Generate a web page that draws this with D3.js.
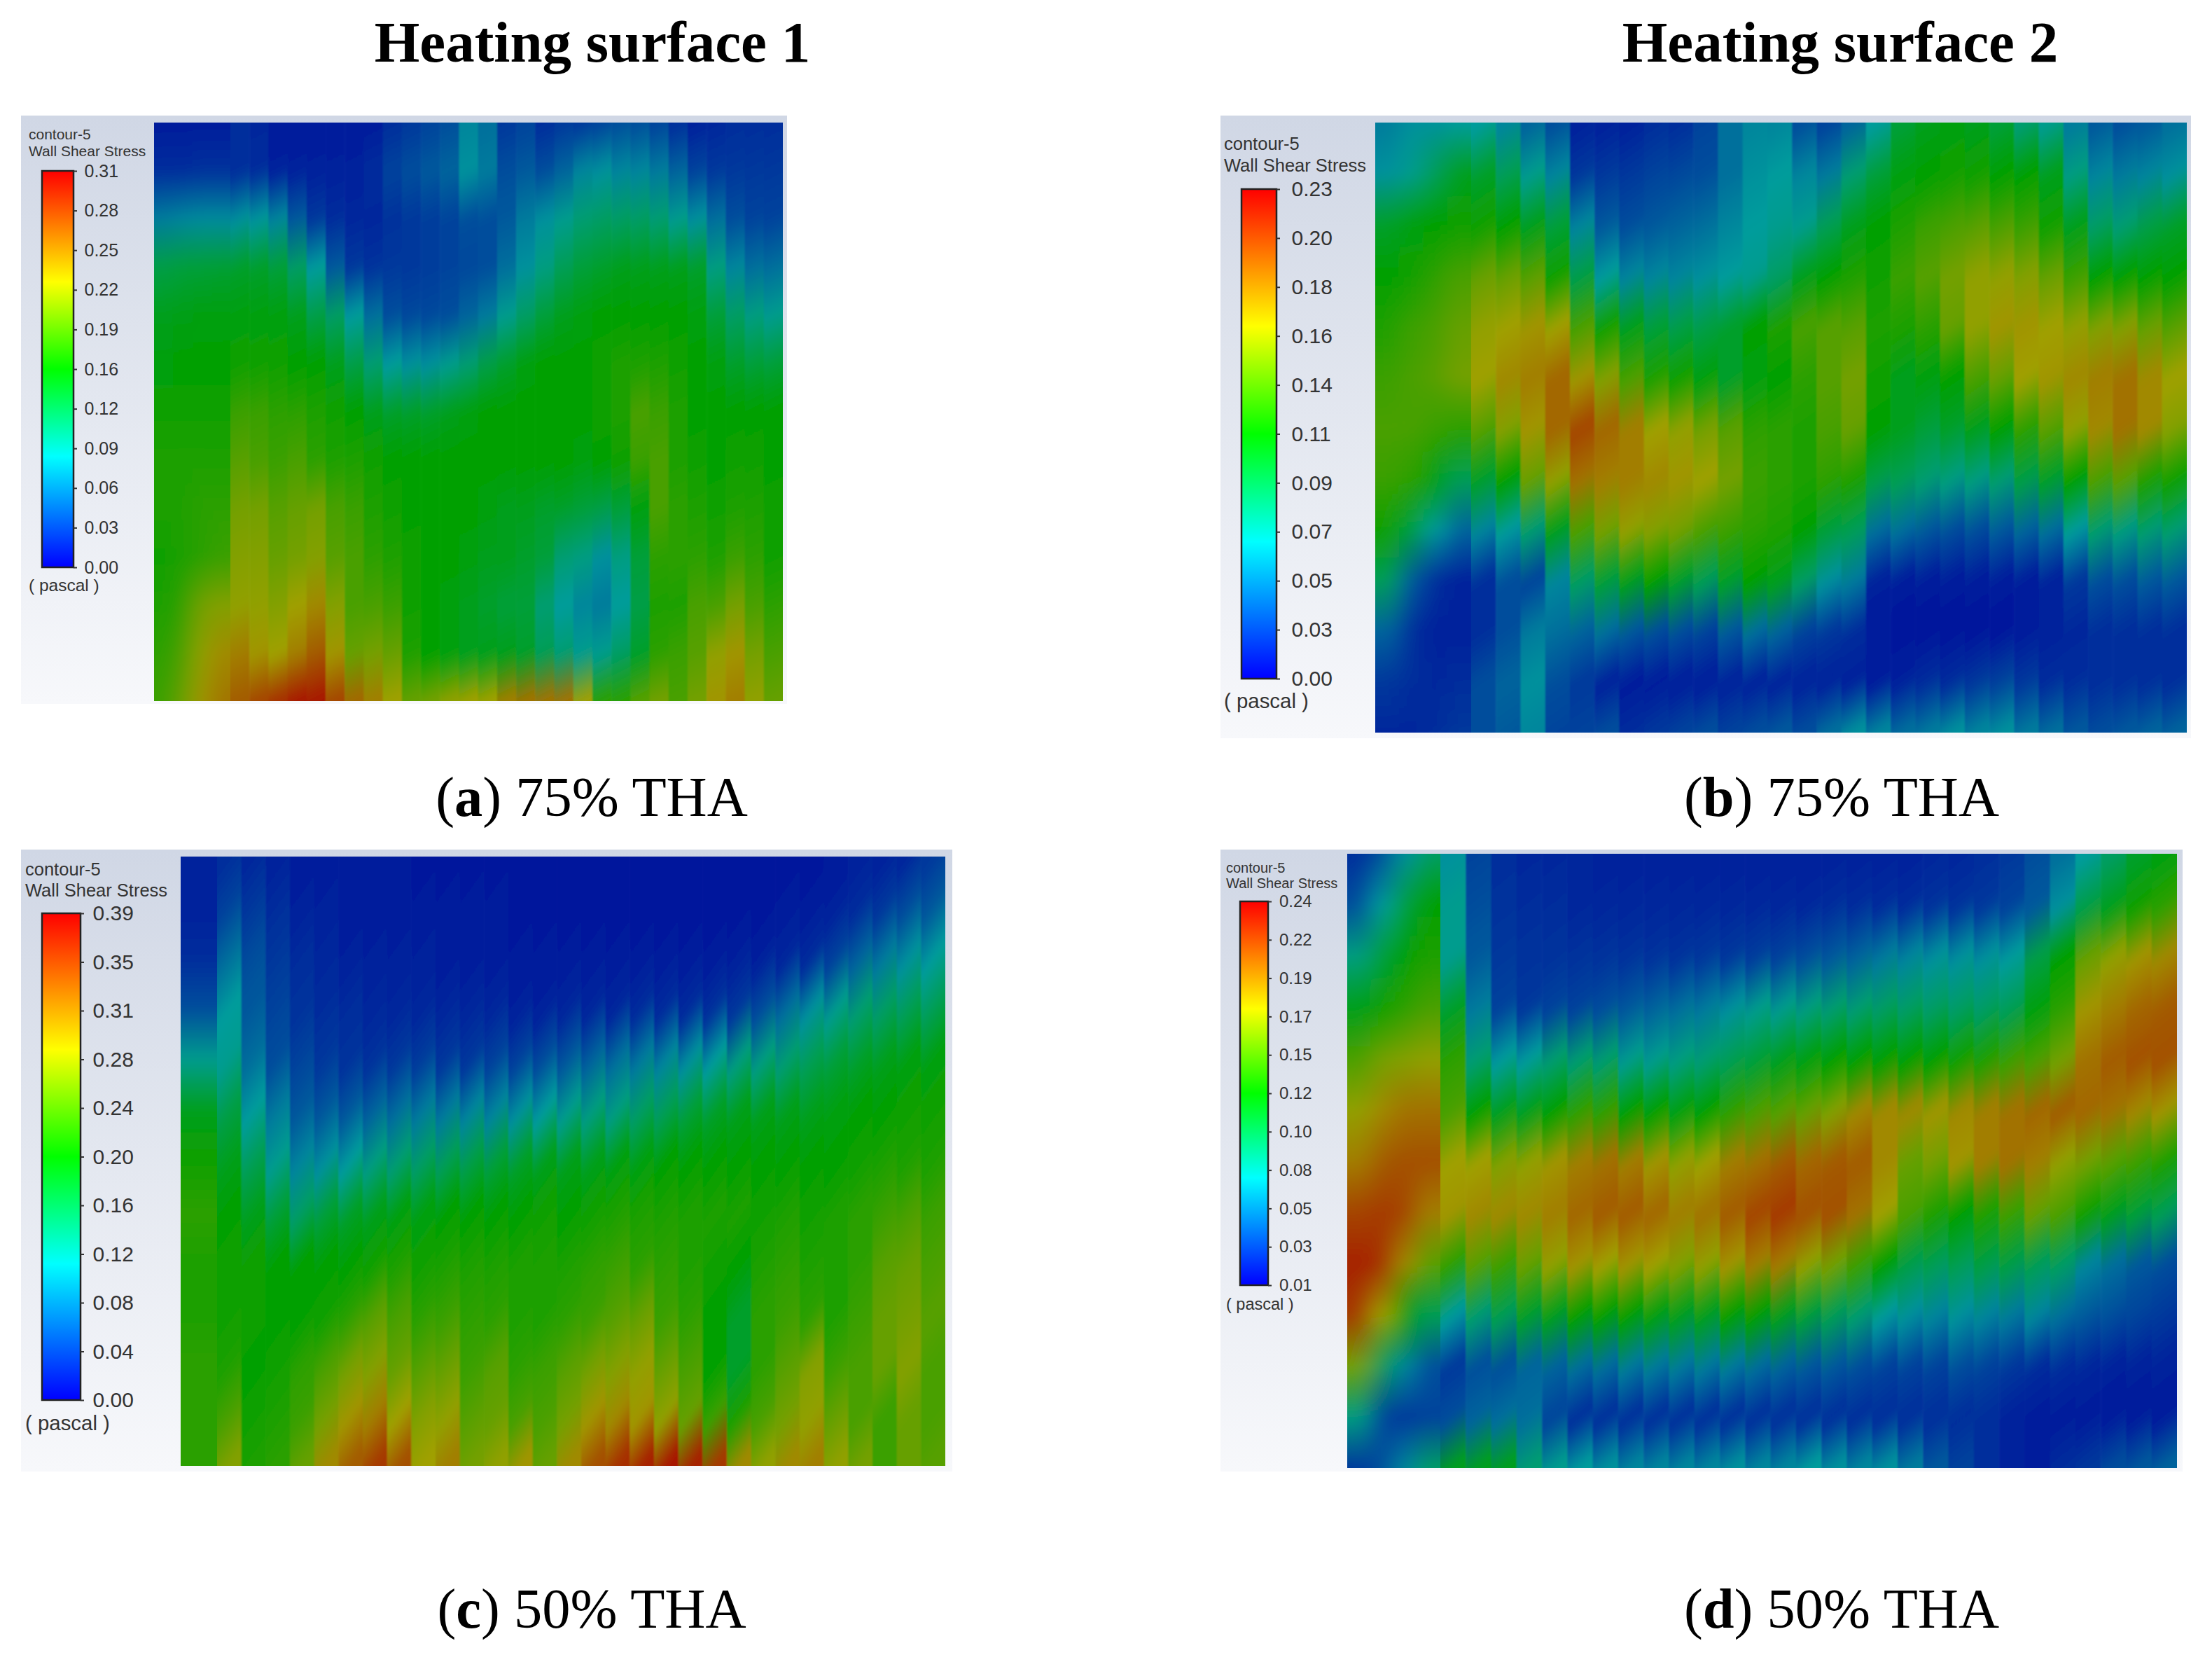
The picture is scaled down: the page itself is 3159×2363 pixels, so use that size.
<!DOCTYPE html>
<html>
<head>
<meta charset="utf-8">
<script src="https://cdn.jsdelivr.net/npm/d3@7"></script>
<style>
  html, body { margin: 0; padding: 0; background: #fff; }
  text { font-family: "Liberation Sans", sans-serif; }
  .title, .caption { font-family: "Liberation Serif", serif; fill: #000; }
</style>
</head>
<body>
<div id="chart"></div>
<script>
// wall shear stress, in % of each colour bar's range
// one array per row (top to bottom), one number per strip (left to right)
const wssA = [
  [5,5,5,5,8,7,5,5,5,5,5,5,8,10,12,14,24,20,10,12,8,10,10,12,14,14,12,8,6,7,8,8,8],
  [8,8,9,9,8,8,6,6,6,6,6,8,12,14,16,18,26,22,14,16,14,18,24,26,24,24,22,18,12,10,10,10,10],
  [22,24,25,25,26,27,24,16,10,8,7,7,9,10,11,12,14,14,16,22,26,30,34,36,36,36,34,30,26,20,14,12,12],
  [40,42,42,43,44,44,42,36,28,16,10,9,10,10,11,12,13,14,20,26,32,38,42,44,46,46,46,46,44,32,24,20,20],
  [46,47,48,48,48,48,48,46,40,36,28,20,14,13,13,14,18,22,30,36,42,46,48,50,50,50,50,50,48,42,36,32,30],
  [48,50,50,50,52,52,52,50,50,46,40,34,28,26,26,30,34,40,44,48,50,50,50,52,54,54,54,52,50,48,44,42,42],
  [52,52,52,52,58,58,56,56,54,52,50,46,44,44,44,46,48,50,50,50,50,50,50,52,54,60,58,54,50,50,50,50,50],
  [54,54,54,54,62,60,58,60,56,54,54,52,50,50,50,50,50,50,50,50,50,50,48,50,52,58,60,54,52,50,52,52,50],
  [54,54,56,56,66,66,62,64,66,60,58,54,52,50,50,50,50,48,46,46,44,44,42,40,42,48,60,56,54,52,54,54,52],
  [52,54,56,58,68,68,64,66,68,62,60,56,54,52,50,50,48,46,46,44,42,34,32,26,32,42,56,56,56,54,58,56,52],
  [54,56,66,68,70,70,68,72,76,68,60,60,58,52,50,48,46,44,42,42,34,28,24,22,28,40,54,54,60,60,66,60,56],
  [56,60,70,76,78,74,72,78,84,74,64,66,64,54,50,48,46,46,46,44,38,34,30,30,36,44,56,58,62,70,74,66,60],
  [58,64,74,80,84,88,92,96,96,88,82,78,72,64,66,70,72,72,78,80,80,80,72,56,56,62,66,60,66,74,78,70,64]
];
const wssB = [
  [22,26,26,28,28,24,18,14,6,6,6,8,8,12,20,24,24,14,12,18,28,42,46,48,46,42,34,30,22,16,14,16,20],
  [26,30,38,46,44,38,30,24,10,10,10,12,13,14,20,26,28,24,22,34,42,48,50,52,52,50,50,46,32,24,22,24,26],
  [44,48,50,52,52,50,46,42,24,16,14,16,18,20,24,28,30,30,38,46,50,54,58,60,62,60,58,52,46,36,34,40,44],
  [50,52,56,60,64,64,62,52,40,28,24,24,24,26,28,30,36,46,50,54,52,58,62,66,70,70,68,64,58,50,50,50,50],
  [54,58,60,64,70,72,74,72,60,52,46,42,40,40,44,50,54,60,62,62,54,54,56,64,70,74,74,72,70,68,68,64,62],
  [58,60,62,66,72,76,78,82,74,68,60,54,52,48,44,48,50,56,62,66,52,46,48,50,60,64,72,74,76,78,80,76,72],
  [60,60,58,56,62,68,74,82,88,82,78,72,70,66,62,56,56,54,60,64,50,46,42,44,46,50,56,62,70,76,80,76,68],
  [58,56,48,38,44,50,64,70,80,78,78,76,74,72,66,58,56,54,56,54,40,38,34,32,32,34,40,44,50,60,62,54,52],
  [52,42,28,18,24,28,34,46,60,66,70,68,66,60,58,56,54,50,42,38,20,20,16,14,14,16,18,20,28,34,32,34,34],
  [38,16,8,6,8,14,12,24,36,42,46,50,44,38,44,50,46,36,26,22,6,5,5,5,5,5,5,6,10,14,14,16,16],
  [18,8,6,6,8,14,22,20,18,20,16,14,14,12,16,20,18,12,10,8,5,4,4,4,4,4,5,6,7,8,8,8,8],
  [10,8,7,8,14,18,26,14,10,6,5,5,5,5,6,6,6,6,6,6,5,6,8,8,10,12,10,8,8,8,8,8,8],
  [7,7,8,10,14,16,24,12,12,14,8,10,12,14,12,14,16,14,20,26,24,20,22,26,24,26,22,20,16,14,16,18,18]
];
const wssC = [
  [6,8,7,6,5,5,5,5,5,4,4,4,4,4,4,4,4,4,4,4,4,4,4,4,4,4,5,6,6,7,10],
  [6,12,10,8,6,6,5,5,5,5,5,5,5,4,4,4,4,4,4,4,4,4,4,4,5,5,6,8,10,14,16],
  [8,20,14,10,8,7,6,6,6,6,5,5,5,5,5,5,5,5,5,5,5,5,6,6,7,8,12,18,22,26,28],
  [14,28,16,12,9,8,8,7,7,7,7,7,7,6,6,7,7,7,8,8,8,9,10,14,20,26,30,34,36,38,38],
  [30,30,20,14,12,10,9,9,10,11,10,10,12,12,14,16,18,20,22,24,26,28,32,32,34,38,42,44,46,48,48],
  [46,40,28,22,16,16,16,18,20,22,22,24,24,26,28,30,32,32,36,38,42,44,46,46,46,46,48,50,50,52,52],
  [52,46,38,30,24,26,28,32,34,36,38,40,42,44,46,46,46,48,48,50,50,50,50,50,50,50,50,52,54,54,54],
  [56,50,46,42,36,42,44,46,48,48,50,50,50,50,52,50,52,54,54,54,54,54,54,52,54,52,54,56,58,60,58],
  [54,52,52,50,50,50,50,52,54,52,54,54,54,54,54,54,56,58,56,56,54,52,50,54,56,54,54,56,62,64,60],
  [54,52,52,50,50,52,56,62,60,56,58,56,56,54,54,56,58,62,64,58,56,50,44,56,58,56,54,58,64,66,62],
  [56,54,50,52,56,60,66,68,64,62,64,58,62,56,58,62,66,68,70,64,60,50,44,56,62,68,58,60,64,68,60],
  [56,60,52,54,58,66,74,78,72,68,70,62,64,60,60,66,74,76,74,70,64,58,54,60,66,70,64,60,58,64,60],
  [56,68,54,56,64,76,84,90,86,72,78,66,70,74,64,76,86,92,94,96,94,90,76,70,76,78,70,66,58,64,62]
];
const wssD = [
  [8,14,26,36,26,12,8,7,7,7,6,6,6,6,6,6,6,6,6,6,6,6,6,7,7,8,10,14,20,28,36,44,48],
  [14,28,42,50,30,14,9,8,8,7,7,7,7,7,7,7,7,7,7,8,8,8,8,9,9,10,12,16,26,40,46,52,56],
  [32,42,50,54,30,16,10,9,9,9,9,9,9,9,10,10,11,12,14,16,18,22,24,26,26,26,28,40,50,64,70,74,76],
  [46,52,56,60,44,22,12,10,12,12,14,16,18,20,22,26,30,30,32,34,34,36,36,36,36,36,38,48,56,74,78,82,84],
  [60,66,68,70,56,34,28,28,34,34,34,30,30,32,34,38,42,46,48,50,50,50,50,50,52,54,58,60,66,80,84,86,86],
  [70,76,80,80,60,50,46,46,50,56,56,50,50,48,50,56,60,62,64,68,76,76,76,74,76,78,80,82,84,82,80,76,74],
  [78,84,86,86,72,72,68,70,74,78,80,78,74,70,72,78,80,84,82,84,84,76,64,66,74,78,80,78,70,66,62,58,54],
  [88,90,88,78,74,76,76,76,78,82,84,84,82,78,80,84,88,90,86,86,80,72,60,54,50,54,58,64,60,52,46,42,38],
  [94,92,76,62,56,62,58,64,70,74,72,74,72,68,70,74,78,78,70,66,58,50,40,38,38,40,40,38,36,24,20,16,14],
  [90,72,50,38,28,34,38,44,46,50,50,50,48,46,46,50,50,46,42,38,34,28,26,24,26,24,22,24,20,16,14,12,10],
  [66,38,24,14,10,14,14,18,18,20,20,22,22,22,22,22,20,18,16,16,14,12,12,12,14,12,10,8,8,7,6,6,6],
  [32,12,10,12,14,18,20,20,12,8,8,8,8,8,8,8,8,8,8,8,8,8,8,8,8,8,6,5,5,5,5,5,5],
  [10,14,24,36,46,46,46,34,30,28,26,24,24,24,24,26,24,24,28,26,24,26,22,16,12,8,6,5,8,10,14,16,18]
];

// colour bar labels, top to bottom
const ticksA = ["0.31","0.28","0.25","0.22","0.19","0.16","0.12","0.09","0.06","0.03","0.00"];
const ticksB = ["0.23","0.20","0.18","0.16","0.14","0.11","0.09","0.07","0.05","0.03","0.00"];
const ticksC = ["0.39","0.35","0.31","0.28","0.24","0.20","0.16","0.12","0.08","0.04","0.00"];
const ticksD = ["0.24","0.22","0.19","0.17","0.15","0.12","0.10","0.08","0.05","0.03","0.01"];

const W = 3159, H = 2363;

// layout of the four screenshots (full size pixels)
// wide = how many strips make up the wider first block, wideFrac = its share of the plot width
const panels = [
  { id: "a", wss: wssA, ticks: ticksA, bg: [30,1124,165,1005], plot: [220,1118,175,1001], bar: [60,105,244,810],
    tickFs: 25, tickPad: 10.5, labelFs: 21, label1: 199, label2: 223, unit: 844, labelX: 41, slant: 0.5, wide: 4, wideFrac: 0.121 },
  { id: "b", wss: wssB, ticks: ticksB, bg: [1743,3129,165,1054], plot: [1964,3123,175,1046], bar: [1773,1823,270,969],
    tickFs: 30, tickPad: 16.5, labelFs: 25.5, label1: 214, label2: 245, unit: 1011, labelX: 1748, slant: 0.7, wide: 4, wideFrac: 0.118 },
  { id: "c", wss: wssC, ticks: ticksC, bg: [30,1360,1213,2101], plot: [258,1350,1223,2093], bar: [60,115,1304,1999],
    tickFs: 30, tickPad: 12.6, labelFs: 25.5, label1: 1250, label2: 1280, unit: 2042, labelX: 36, slant: 1.4, wide: 1, wideFrac: 0.048 },
  { id: "d", wss: wssD, ticks: ticksD, bg: [1743,3117,1213,2101], plot: [1924,3109,1219,2096], bar: [1771,1811,1287,1835],
    tickFs: 24, tickPad: 11, labelFs: 20, label1: 1246, label2: 1268, unit: 1870, labelX: 1751, slant: 0.8, wide: 4, wideFrac: 0.112 }
];

const titles = [
  { text: "Heating surface 1", x: 846 },
  { text: "Heating surface 2", x: 2628 }
];
const captions = [
  { tag: "a", text: " 75% THA", x: 845, y: 1165 },
  { tag: "b", text: " 75% THA", x: 2630, y: 1165 },
  { tag: "c", text: " 50% THA", x: 845, y: 2324 },
  { tag: "d", text: " 50% THA", x: 2630, y: 2324 }
];

// rainbow of the colour bar
const barStops = [0, 28, 50, 72, 100];
const barColors = ["#0000ff", "#00ffff", "#00ff00", "#ffff00", "#ff0000"];
// same rainbow on the contours, but shaded darker
const plotColors = ["#00009c", "#009c9c", "#00a000", "#a0a000", "#a80000"];

const barColor = d3.scaleLinear().domain(barStops).range(barColors);
const plotColor = d3.scaleLinear().domain(barStops).range(plotColors);

const svg = d3.select("#chart").append("svg")
  .attr("width", W)
  .attr("height", H)
  .style("display", "block")
  .style("background", "#fff");

const defs = svg.append("defs");

const bgGrad = defs.append("linearGradient")
  .attr("id", "panelBg")
  .attr("x1", 0).attr("x2", 0).attr("y1", 0).attr("y2", 1);
bgGrad.append("stop").attr("offset", 0).attr("stop-color", "#d0d7e5");
bgGrad.append("stop").attr("offset", 1).attr("stop-color", "#f7f8fb");

// strips keep a fairly sharp side edge but the rows melt together
defs.append("filter")
  .attr("id", "soft")
  .append("feGaussianBlur")
  .attr("stdDeviation", "1.2 9");
// first block of a panel is one smooth area in the reference
defs.append("filter")
  .attr("id", "softWide")
  .append("feGaussianBlur")
  .attr("stdDeviation", "16 9");

function clipRect(id, x0, x1, y0, y1) {
  defs.append("clipPath")
    .attr("id", id)
    .append("rect")
    .attr("x", x0)
    .attr("y", y0)
    .attr("width", x1 - x0)
    .attr("height", y1 - y0);
}

panels.forEach(p => {
  const nCols = p.wss[0].length;
  const nRows = p.wss.length;
  p.wss.forEach((r, i) => {
    if (r.length !== nCols) throw new Error(p.id + " row " + i + " has " + r.length);
  });

  const g = svg.append("g").attr("class", "panel-" + p.id);

  // grey background of the screenshot
  g.append("rect")
    .attr("x", p.bg[0])
    .attr("y", p.bg[2])
    .attr("width", p.bg[1] - p.bg[0])
    .attr("height", p.bg[3] - p.bg[2])
    .attr("fill", "url(#panelBg)");

  const plotW = p.plot[1] - p.plot[0];
  const xSplit = Math.round(p.plot[0] + plotW * p.wideFrac); // whole pixel, no seam
  const x = d3.scaleLinear().domain([0, p.wide, nCols]).range([p.plot[0], xSplit, p.plot[1]]);
  const y = d3.scaleLinear().domain([0, nRows - 1]).range([p.plot[2], p.plot[3]]);

  // one tilted vertical gradient per strip, that gives the sawtooth look
  const h = y.range()[1] - y.range()[0];
  d3.range(nCols).forEach(c => {
    const s = c < p.wide ? 0 : p.slant;
    const len = h / (1 + s * s);
    const xc = (x(c) + x(c + 1)) / 2;
    const grad = defs.append("linearGradient")
      .attr("id", "strip-" + p.id + "-" + c)
      .attr("gradientUnits", "userSpaceOnUse")
      .attr("x1", xc)
      .attr("y1", y(0))
      .attr("x2", xc + s * len)
      .attr("y2", y(0) + len);
    grad.selectAll("stop")
      .data(p.wss.map(r => r[c]))
      .join("stop")
      .attr("offset", (d, i) => i / (nRows - 1))
      .attr("stop-color", d => plotColor(d));
  });

  // the two parts are clipped apart, rects overshoot so the blur has no faded rim
  const over = 60;
  const parts = [
    { name: "wide", cols: d3.range(0, p.wide), x0: p.plot[0], x1: xSplit, filter: "softWide" },
    { name: "rest", cols: d3.range(p.wide, nCols), x0: xSplit, x1: p.plot[1], filter: "soft" }
  ];
  parts.forEach(part => {
    const clipId = "clip-" + p.id + "-" + part.name;
    clipRect(clipId, part.x0, part.x1, p.plot[2], p.plot[3]);
    const first = part.cols[0], last = part.cols[part.cols.length - 1];
    g.append("g")
      .attr("clip-path", "url(#" + clipId + ")")
      .append("g")
      .attr("filter", "url(#" + part.filter + ")")
      .selectAll("rect")
      .data(part.cols)
      .join("rect")
      .attr("x", c => x(c) - (c === first ? over : 0))
      .attr("y", p.plot[2] - over)
      .attr("width", c => x(c + 1) - x(c) + 0.6 + (c === first ? over : 0) + (c === last ? over : 0))
      .attr("height", h + 2 * over)
      .attr("fill", c => "url(#strip-" + p.id + "-" + c + ")");
  });

  // colour bar
  const barId = "bar-" + p.id;
  const barGrad = defs.append("linearGradient")
    .attr("id", barId)
    .attr("x1", 0).attr("x2", 0).attr("y1", 1).attr("y2", 0);
  barGrad.selectAll("stop")
    .data(barStops)
    .join("stop")
    .attr("offset", d => d / 100)
    .attr("stop-color", d => barColor(d));

  g.append("rect")
    .attr("x", p.bar[0])
    .attr("y", p.bar[2])
    .attr("width", p.bar[1] - p.bar[0])
    .attr("height", p.bar[3] - p.bar[2])
    .attr("fill", "url(#" + barId + ")")
    .attr("stroke", "#222")
    .attr("stroke-width", 2.5);

  const tickScale = d3.scalePoint().domain(p.ticks).range([p.bar[2], p.bar[3]]);
  const axis = g.append("g")
    .attr("transform", "translate(" + p.bar[1] + ",0)")
    .call(d3.axisRight(tickScale).tickSize(5).tickPadding(p.tickPad));
  axis.select(".domain").remove();
  axis.selectAll("line").attr("stroke", "#333").attr("stroke-width", 2);
  axis.selectAll("text")
    .attr("font-size", p.tickFs)
    .attr("font-family", "Liberation Sans")
    .attr("fill", "#333");

  // legend texts
  [["contour-5", p.label1], ["Wall Shear Stress", p.label2]].forEach(l => {
    g.append("text")
      .attr("x", p.labelX)
      .attr("y", l[1])
      .attr("font-size", p.labelFs)
      .attr("fill", "#333")
      .text(l[0]);
  });
  g.append("text")
    .attr("x", p.labelX)
    .attr("y", p.unit)
    .attr("font-size", p.tickFs * 0.98)
    .attr("fill", "#333")
    .text("( pascal )");
});

// column titles
svg.selectAll("text.title")
  .data(titles)
  .join("text")
  .attr("class", "title")
  .attr("x", d => d.x)
  .attr("y", 88)
  .attr("text-anchor", "middle")
  .attr("font-size", 83)
  .attr("font-weight", "bold")
  .text(d => d.text);

// (a) 75% THA etc
const cap = svg.selectAll("text.caption")
  .data(captions)
  .join("text")
  .attr("class", "caption")
  .attr("x", d => d.x)
  .attr("y", d => d.y)
  .attr("text-anchor", "middle")
  .attr("font-size", 80.5);
cap.append("tspan").text("(");
cap.append("tspan").attr("font-weight", "bold").text(d => d.tag);
cap.append("tspan").text(d => ")" + d.text);
</script>
</body>
</html>
